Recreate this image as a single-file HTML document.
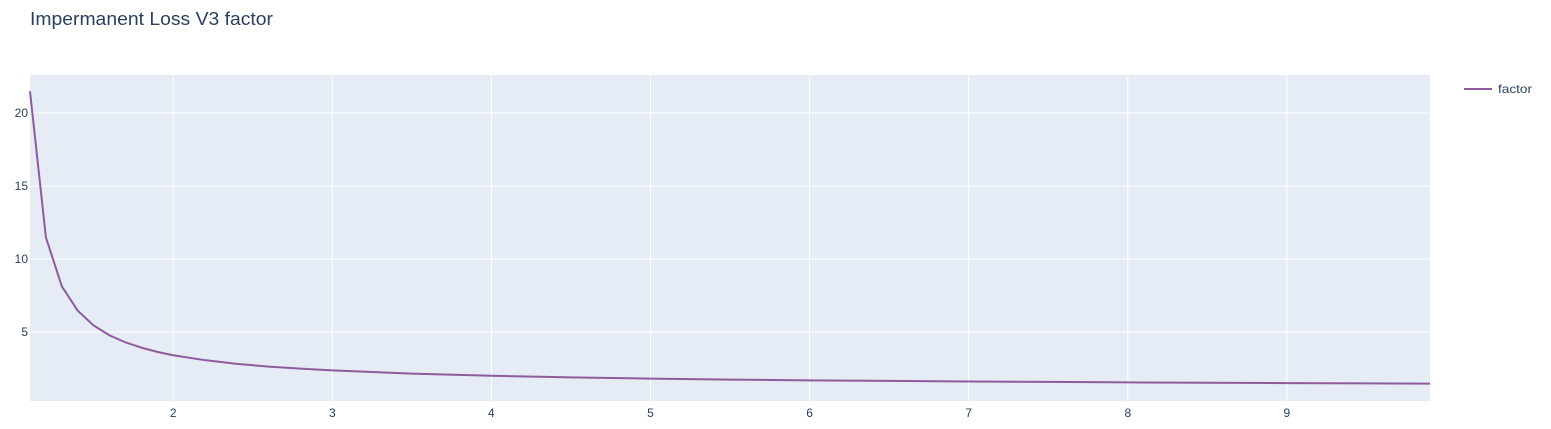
<!DOCTYPE html>
<html><head><meta charset="utf-8"><style>
body{margin:0;background:#fff;}
svg{font-family:"Liberation Sans",sans-serif;}
</style></head><body>
<svg id="chart" width="1551" height="424">
<text x="30" y="25" font-size="18" fill="#2a3f5f" textLength="243" lengthAdjust="spacingAndGlyphs">Impermanent Loss V3 factor</text>
<rect x="30" y="75" width="1400" height="326" fill="#e5ecf6"/>
<g id="grid"></g><g id="series"></g><g id="ticks"></g>
<g>
<line x1="1464" y1="89" x2="1492" y2="89" stroke="#8e5b9e" stroke-width="2"/>
<text x="1498" y="93" font-size="12" fill="#2a3f5f" textLength="34" lengthAdjust="spacingAndGlyphs">factor</text>
</g>
</svg>
<script>
const xs=[1.1,1.2,1.3,1.4,1.5,1.6,1.7,1.8,1.9,2.0,2.2,2.4,2.6,2.8,3.0,3.5,4,4.5,5,5.5,6,6.5,7,7.5,8,8.5,9,9.5,9.9];
const ys=[21.49,11.48,8.13,6.46,5.45,4.77,4.29,3.93,3.64,3.41,3.07,2.82,2.63,2.49,2.37,2.15,2.00,1.89,1.81,1.74,1.69,1.65,1.61,1.58,1.55,1.52,1.50,1.48,1.466];
const xTicks=[2,3,4,5,6,7,8,9];
const yTicks=[5,10,15,20];
const NS="http://www.w3.org/2000/svg";
const X=v=>30+(v-1.1)*159.1;
const Y=v=>332-(v-5)*14.6;
const grid=document.getElementById('grid'),ticks=document.getElementById('ticks');
function mk(t,a,p){const e=document.createElementNS(NS,t);for(const k in a)e.setAttribute(k,a[k]);p.appendChild(e);return e;}
xTicks.forEach(v=>{
 const l=mk('line',{x1:X(v),x2:X(v),y1:75,y2:401,stroke:'#fff','stroke-width':1},grid);
 
 
 const t=mk('text',{x:X(v),y:417,'font-size':12,fill:'#2a3f5f','text-anchor':'middle'},ticks);
 t.textContent=v;
 
 
});
yTicks.forEach(v=>{
 const l=mk('line',{x1:30,x2:1430,y1:Y(v),y2:Y(v),stroke:'#fff','stroke-width':1},grid);
 
 
 const t=mk('text',{x:28,y:Y(v)+4,'font-size':12,fill:'#2a3f5f','text-anchor':'end'},ticks);
 t.textContent=v;
 
 
});
const p=mk('polyline',{points:xs.map((x,i)=>X(x)+','+Y(ys[i])).join(' '),fill:'none',stroke:'#8e5b9e','stroke-width':2},document.getElementById('series'));


</script>
</body></html>
